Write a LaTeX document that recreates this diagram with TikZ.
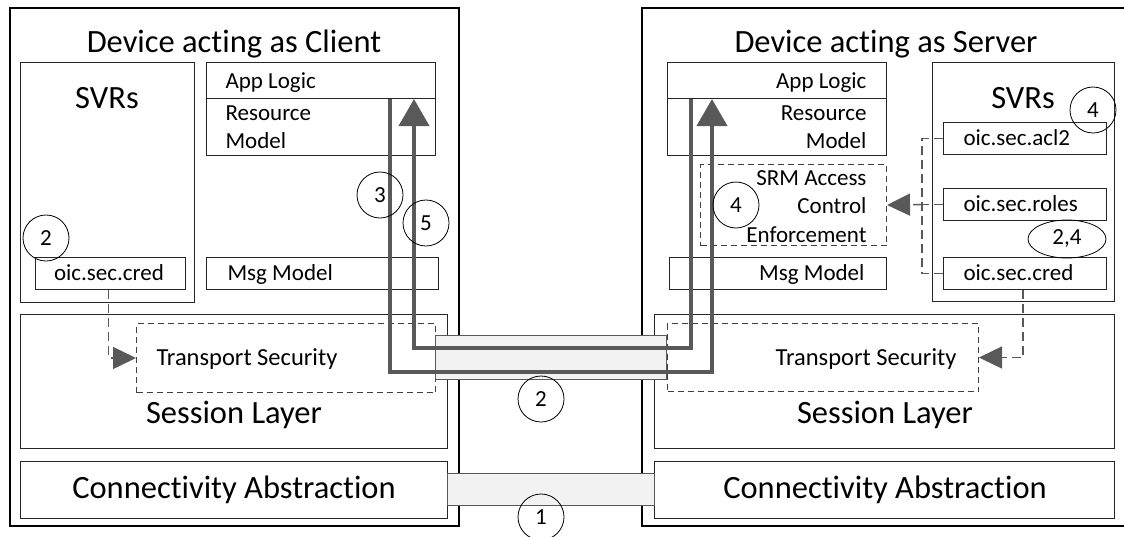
\documentclass[tikz,border=0pt]{standalone}
\usepackage{fontspec}
\setmainfont{Carlito}[Ligatures=NoCommon]
\usetikzlibrary{arrows.meta,shapes.geometric}
\definecolor{pipegray}{HTML}{F2F2F2}
\definecolor{flowgray}{HTML}{595959}
\begin{document}
\begin{tikzpicture}[x=1pt,y=-1pt,
  big/.style={font=\fontsize{32.5}{38}\selectfont},
  small/.style={font=\fontsize{23}{28.5}\selectfont},
  tls/.style={font=\fontsize{24.5}{29}\selectfont},
  outer/.style={draw=black, line width=1.6pt},
  box/.style={draw=black!85, line width=1pt, inner sep=0pt, anchor=north west},
  dbox/.style={draw=black!75, line width=1pt, dash pattern=on 6pt off 4pt, inner sep=0pt, anchor=north west},
  pipe/.style={fill=pipegray, draw=flowgray, line width=0.8pt, inner sep=0pt, anchor=north west},
  num/.style={circle, draw, line width=0.8pt, minimum size=46pt, inner sep=0pt, small},
  flow/.style={draw=flowgray, line width=4pt, -{Triangle[length=27pt,width=30pt]}},
  link/.style={draw=flowgray, line width=1.5pt, dash pattern=on 9pt off 5pt, -{Triangle[length=23pt,width=22pt]}},
  nolink/.style={draw=flowgray, line width=1.5pt, dash pattern=on 9pt off 5pt}]
\useasboundingbox (0,0) rectangle (1124,536);

% client side
\draw[outer] (10,8) rectangle (459,526);
\node[big, anchor=base] (ctitle) at (234,52) {Device acting as Client};
\node[box, minimum width=174pt, minimum height=240pt] (csvr) at (20,62) {};
\node[big, anchor=base] (csvrtxt) at (107,108) {SVRs};
\node[box, minimum width=229pt, minimum height=36pt] (capp) at (206,62) {};
\node[box, minimum width=229pt, minimum height=57pt] (cres) at (206,98) {};
\node[small, anchor=base west] (capptxt) at (222,88) {App Logic};
\foreach \t [count=\i] in {Resource,Model}
  \node[small, anchor=base west] (crestxt\i) at (222,92+28*\i) {\t};
\node[box, minimum width=150pt, minimum height=32pt] (ccred) at (35,257) {};
\node[small, anchor=base] (ccredtxt) at (109,280) {oic.sec.cred};
\node[box, minimum width=232pt, minimum height=32pt] (cmsg) at (206,257) {};
\node[small, anchor=base west] (cmsgtxt) at (224,280) {Msg Model};
\node[box, minimum width=427pt, minimum height=134pt] (csess) at (20,314) {};
\node[big, anchor=base] (csesstxt) at (234,423) {Session Layer};
\node[dbox, minimum width=299pt, minimum height=69pt] (ctls) at (136,323) {};
\node[tls, anchor=base west] (ctlstxt) at (153,365) {Transport Security};
\node[box, minimum width=427pt, minimum height=57pt] (ccon) at (20,461) {};
\node[big, anchor=base] (ccontxt) at (234,498) {Connectivity Abstraction};

% server side
\draw[outer] (642,8) rectangle (1132,526);
\node[big, anchor=base] (stitle) at (886,52) {Device acting as Server};
\node[box, minimum width=219pt, minimum height=36pt] (sapp) at (667,62) {};
\node[box, minimum width=219pt, minimum height=57pt] (sres) at (667,98) {};
\node[small, anchor=base east] (sapptxt) at (870,88) {App Logic};
\foreach \t [count=\i] in {Resource,Model}
  \node[small, anchor=base east] (srestxt\i) at (870,92+28*\i) {\t};
\node[dbox, minimum width=186pt, minimum height=81pt] (ssrm) at (700,164) {};
\foreach \t [count=\i] in {SRM Access,Control,Enforcement}
  \node[small, anchor=base east] (ssrmtxt\i) at (870,156.5+28.5*\i) {\t};
\node[box, minimum width=217pt, minimum height=32pt] (smsg) at (669,257) {};
\node[small, anchor=base east] (smsgtxt) at (868,280) {Msg Model};
\node[box, minimum width=182pt, minimum height=239pt] (ssvr) at (932,62) {};
\node[big, anchor=base] (ssvrtxt) at (1023,108) {SVRs};
\foreach \n/\t/\y in {sacl/acl2/122,srol/roles/188,scred/cred/257}{
  \node[box, minimum width=163pt, minimum height=32pt] (\n) at (943,\y) {};
  \node[small, anchor=base west] (\n txt) at (960,\y+23) {oic.sec.\t};
}
\node[box, minimum width=460pt, minimum height=134pt] (ssess) at (654,314) {};
\node[big, anchor=base] (ssesstxt) at (885,423) {Session Layer};
\node[dbox, minimum width=311pt, minimum height=68pt] (stls) at (667,323) {};
\node[tls, anchor=base east] (stlstxt) at (960,365) {Transport Security};
\node[box, minimum width=460pt, minimum height=57pt] (scon) at (654,461) {};
\node[big, anchor=base] (scontxt) at (885,498) {Connectivity Abstraction};

% pipes between the devices
\node[pipe, minimum width=231pt, minimum height=44pt] (tlspipe) at (435,335) {};
\node[pipe, minimum width=207pt, minimum height=32pt] (conpipe) at (447,473) {};

% request and response
\draw[flow] ([xshift=-46pt]capp.south east) -- ++(0,273) -| ([xshift=45pt]sapp.south west);
\draw[flow] ([xshift=24pt]sapp.south west) -- ++(0,249) -| ([xshift=-22pt]capp.south east);

% credentials and access control
\draw[link] ([xshift=-2pt]ccred.south) |- (ctls.west);
\draw[link] ([xshift=80pt]scred.south west) |- (stls.east);
\coordinate (sbus) at ([xshift=-21pt]srol.west);
\draw[nolink] (sacl.west) -| (sbus) |- (scred.west);
\draw[nolink] (srol.west) -- (sbus);
\draw[link] (sbus) -- (ssrm.east);

% steps
\node[num] (n2a) at (46,238) {2};
\node[num] (n3) at (380,195) {3};
\node[num] (n5) at (426,223) {5};
\node[num] (n2b) at (541,399) {2};
\node[num] (n1) at (541,517) {1};
\node[num] (n4a) at (1093,110) {4};
\node[num] (n4b) at (736,205) {4};
\node[ellipse, draw, line width=0.8pt, minimum width=78pt, minimum height=38pt, inner sep=0pt, small] (n24) at (1067,239) {2,4};
\end{tikzpicture}
\end{document}
